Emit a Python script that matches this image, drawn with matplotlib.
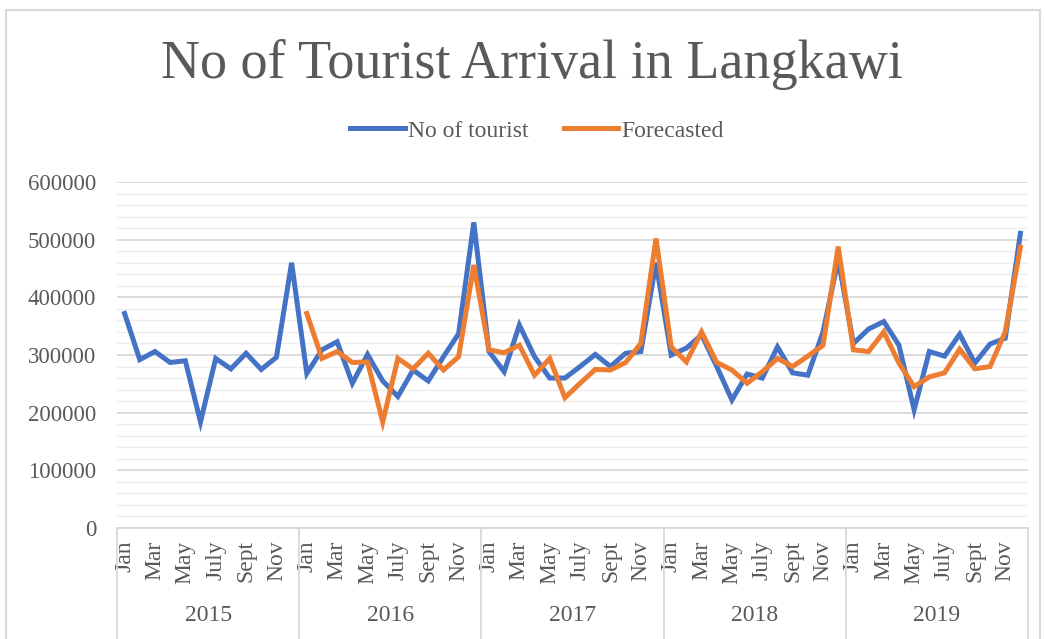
import matplotlib.pyplot as plt
from matplotlib.patches import Rectangle
import matplotlib.transforms as mtransforms
import numpy as np

# Data (values in tourists)
years = ['2015', '2016', '2017', '2018', '2019']
months = ['Jan', 'Feb', 'Mar', 'Apr', 'May', 'Jun', 'July', 'Aug', 'Sept', 'Oct', 'Nov', 'Dec']
shown_months = ['Jan', 'Mar', 'May', 'July', 'Sept', 'Nov']

tourists = [
    372000, 292000, 306000, 287000, 290000, 184000, 294000, 276000, 303000, 275000, 296000, 460000,
    268000, 309000, 323000, 251000, 301000, 255000, 228000, 274000, 255000, 297000, 337000, 530000,
    306000, 271000, 352000, 297000, 260000, 260000, 280000, 301000, 280000, 303000, 306000, 460000,
    300000, 312000, 335000, 280000, 222000, 267000, 260000, 314000, 269000, 265000, 340000, 465000,
    320000, 345000, 358000, 317000, 205000, 306000, 298000, 336000, 286000, 319000, 329000, 511000,
]
forecast = [None] * 12 + [
    372000, 294000, 306000, 287000, 288000, 184000, 294000, 276000, 303000, 274000, 297000, 456000,
    309000, 304000, 317000, 265000, 294000, 226000, 251000, 275000, 274000, 287000, 320000, 502000,
    314000, 288000, 340000, 287000, 274000, 251000, 271000, 294000, 280000, 298000, 317000, 488000,
    309000, 306000, 340000, 286000, 245000, 262000, 269000, 310000, 276000, 280000, 340000, 487000,
]

BLUE = '#4472C4'
ORANGE = '#ED7D31'
TEXT = '#595959'
GRID = '#D9D9D9'
SERIF = ['Liberation Serif', 'DejaVu Serif']

plt.rcParams['font.family'] = SERIF

fig = plt.figure(figsize=(10.45, 6.39), dpi=100)
ax = fig.add_axes([117 / 1045, 1 - 528 / 639, (1028 - 117) / 1045, (528 - 182) / 639])

x = np.arange(len(tourists))
fc = np.array([np.nan if v is None else v for v in forecast], dtype=float)

ax.plot(x, tourists, color=BLUE, lw=3.6, solid_joinstyle='miter', label='No of tourist', zorder=3)
ax.plot(x, fc, color=ORANGE, lw=3.6, solid_joinstyle='miter', label='Forecasted', zorder=4)

ax.set_xlim(-0.5, len(tourists) - 0.5)
ax.set_ylim(0, 600000)

# y axis
ax.set_yticks(np.arange(0, 600001, 100000))
ax.set_yticks(np.arange(0, 600001, 20000), minor=True)
ax.yaxis.grid(True, which='major', color=GRID, lw=1.3)
ax.yaxis.grid(True, which='minor', color='#EDEDED', lw=1.0)
ax.set_axisbelow(True)
ax.tick_params(axis='y', which='both', length=0, pad=15, labelsize=16.5, labelcolor=TEXT)

for side in ['left', 'right', 'top']:
    ax.spines[side].set_visible(False)
ax.spines['bottom'].set_color(GRID)
ax.spines['bottom'].set_linewidth(1.3)

# month labels (every other month) and year group labels
pos = [i for i in x if months[i % 12] in shown_months]
ax.set_xticks(pos)
ax.set_xticklabels([months[i % 12] for i in pos], rotation=90, fontsize=17, color=TEXT)
ax.tick_params(axis='x', length=0, pad=9)

trans = mtransforms.blended_transform_factory(ax.transData, ax.transAxes)
for k, yr in enumerate(years):
    ax.text(k * 12 + 5.5, -0.253, yr, transform=trans, ha='center', va='center',
            fontsize=17, color=TEXT)
for k in range(len(years) + 1):
    ax.plot([k * 12 - 0.5, k * 12 - 0.5], [0, -0.33], transform=trans, color=GRID,
            lw=1.3, clip_on=False)

# title and legend
fig.text(532 / 1045, 1 - 65 / 639, 'No of Tourist Arrival in Langkawi', ha='center',
         va='center', fontsize=39, color=TEXT)
fig.legend(loc='center', bbox_to_anchor=(537 / 1045, 1 - 131 / 639), ncol=2, frameon=False,
           fontsize=17, handlelength=2.3, handletextpad=0.13, columnspacing=1.5,
           labelcolor=TEXT)

# chart frame
fig.patches.append(Rectangle((6 / 1045, -0.1), (1040 - 6) / 1045, 1.1 - 10 / 639,
                             transform=fig.transFigure, fill=False, edgecolor=GRID, lw=1.5))

fig.savefig('out.png', dpi=100)
